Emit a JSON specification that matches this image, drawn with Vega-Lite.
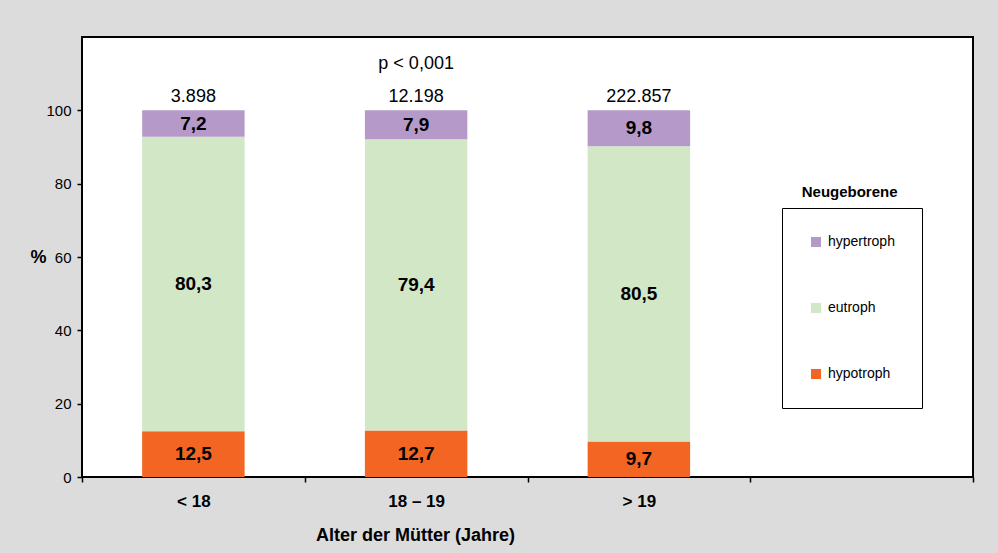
{
  "$schema": "https://vega.github.io/schema/vega-lite/v6.json",
  "width": 891,
  "height": 440,
  "autosize": "none",
  "padding": {"left": 82, "top": 37, "right": 25, "bottom": 76},
  "background": "#dcdcdc",
  "config": {
    "font": "Liberation Sans",
    "view": {"fill": "white", "stroke": "black", "strokeWidth": 2},
    "locale": {"number": {"decimal": ",", "thousands": ".", "grouping": [3], "currency": ["", " €"]}},
    "axis": {"labelColor": "black", "titleColor": "black", "tickColor": "black", "domain": false, "grid": false}
  },
  "datasets": {
    "shares": [
      {"age": "< 18", "cat": "hypotroph", "ord": 1, "value": 12.5},
      {"age": "< 18", "cat": "eutroph", "ord": 2, "value": 80.3},
      {"age": "< 18", "cat": "hypertroph", "ord": 3, "value": 7.2},
      {"age": "18 – 19", "cat": "hypotroph", "ord": 1, "value": 12.7},
      {"age": "18 – 19", "cat": "eutroph", "ord": 2, "value": 79.4},
      {"age": "18 – 19", "cat": "hypertroph", "ord": 3, "value": 7.9},
      {"age": "> 19", "cat": "hypotroph", "ord": 1, "value": 9.7},
      {"age": "> 19", "cat": "eutroph", "ord": 2, "value": 80.5},
      {"age": "> 19", "cat": "hypertroph", "ord": 3, "value": 9.8}
    ],
    "ns": [
      {"age": "< 18", "n": 3898},
      {"age": "18 – 19", "n": 12198},
      {"age": "> 19", "n": 222857}
    ]
  },
  "encoding": {
    "x": {
      "field": "age",
      "type": "nominal",
      "sort": null,
      "scale": {"domain": ["< 18", "18 – 19", "> 19", " "], "paddingInner": 0, "paddingOuter": 0},
      "axis": {
        "title": "Alter der Mütter (Jahre)",
        "titleFontSize": 18,
        "titleFontWeight": "bold",
        "titleX": 333,
        "titleY": 58,
        "titleAlign": "center",
        "titleBaseline": "middle",
        "labelAngle": 0,
        "labelFontSize": 17,
        "labelFontWeight": "bold",
        "labelPadding": 11,
        "tickBand": "extent",
        "tickSize": 5,
        "tickWidth": 1.5
      }
    }
  },
  "layer": [
    {
      "data": {"name": "shares"},
      "mark": {"type": "bar", "width": {"band": 0.46}},
      "encoding": {
        "y": {
          "field": "value",
          "type": "quantitative",
          "stack": "zero",
          "scale": {"domain": [0, 120], "nice": false},
          "axis": {
            "values": [0, 20, 40, 60, 80, 100],
            "title": "%",
            "titleAngle": 0,
            "titleFontSize": 18,
            "titleFontWeight": "bold",
            "titleX": -44,
            "titleY": 220,
            "titleAlign": "center",
            "titleBaseline": "middle",
            "labelFontSize": 15,
            "labelPadding": 6,
            "tickSize": 5,
            "tickWidth": 1.5
          }
        },
        "color": {
          "field": "cat",
          "type": "nominal",
          "scale": {"domain": ["hypertroph", "eutroph", "hypotroph"], "range": ["#b59ac9", "#d1e7c6", "#f26522"]},
          "legend": {
            "orient": "none",
            "legendX": 700,
            "legendY": 171,
            "title": null,
            "strokeColor": "black",
            "fillColor": "white",
            "padding": 27,
            "rowPadding": 52,
            "symbolType": "square",
            "symbolSize": 100,
            "symbolStrokeWidth": 0,
            "labelFontSize": 14,
            "labelColor": "black",
            "labelOffset": 5
          }
        },
        "order": {"field": "ord", "type": "quantitative"}
      }
    },
    {
      "data": {"name": "shares"},
      "mark": {"type": "text", "fontSize": 19, "fontWeight": "bold", "baseline": "middle", "color": "black"},
      "encoding": {
        "y": {"field": "value", "type": "quantitative", "stack": "zero", "bandPosition": 0.5},
        "detail": {"field": "cat"},
        "order": {"field": "ord", "type": "quantitative"},
        "text": {"field": "value", "type": "quantitative", "format": ".1f"}
      }
    },
    {
      "data": {"name": "ns"},
      "mark": {"type": "text", "fontSize": 18, "baseline": "alphabetic", "dy": -8, "color": "black"},
      "encoding": {
        "y": {"datum": 100, "type": "quantitative"},
        "text": {"field": "n", "type": "quantitative", "format": ",d"}
      }
    },
    {
      "data": {"values": [{"label": "p < 0,001", "age": "18 – 19", "level": 100}]},
      "mark": {"type": "text", "fontSize": 18, "baseline": "alphabetic", "dy": -41, "color": "black"},
      "encoding": {
        "y": {"field": "level", "type": "quantitative"},
        "text": {"field": "label"}
      }
    },
    {
      "data": {"values": [{"label": "Neugeborene", "age": " ", "level": 77.7}]},
      "mark": {"type": "text", "fontSize": 15, "fontWeight": "bold", "baseline": "middle", "dx": -12, "color": "black"},
      "encoding": {
        "y": {"field": "level", "type": "quantitative"},
        "text": {"field": "label"}
      }
    }
  ]
}
